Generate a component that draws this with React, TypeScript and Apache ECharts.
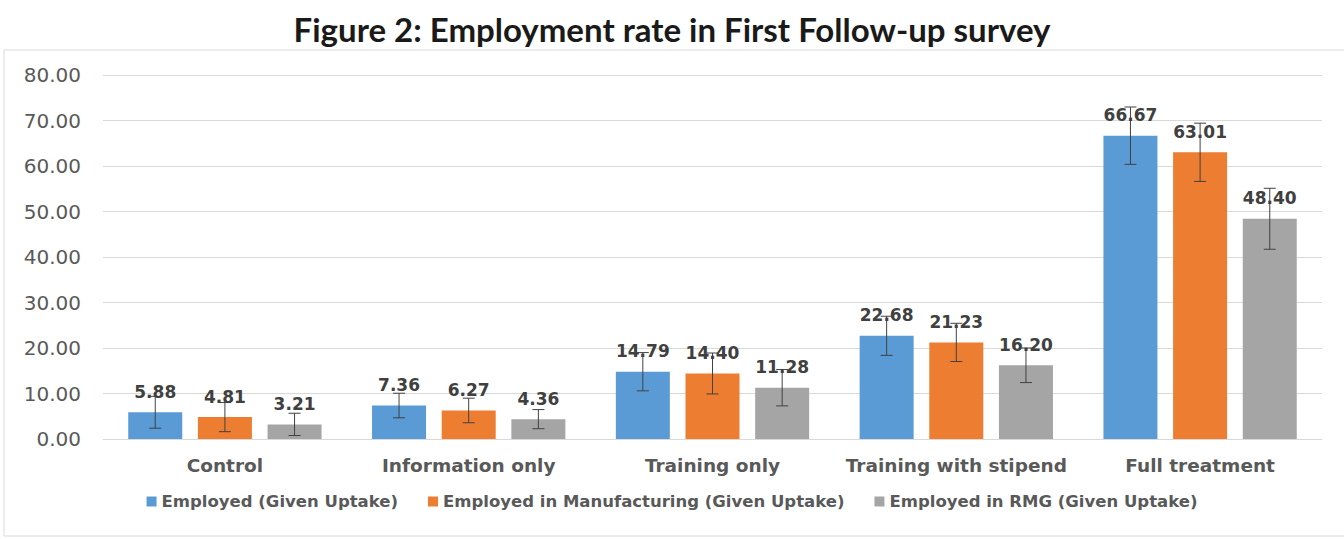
import React, { useEffect, useRef } from "react";
import * as echarts from "echarts";

const categories = ["Control", "Information only", "Training only", "Training with stipend", "Full treatment"];
const seriesNames = [
  "Employed (Given Uptake)",
  "Employed in Manufacturing (Given Uptake)",
  "Employed in RMG (Given Uptake)",
];
const employed = [5.88, 7.36, 14.79, 22.68, 66.67];
const manufacturing = [4.81, 6.27, 14.4, 21.23, 63.01];
const rmg = [3.21, 4.36, 11.28, 16.2, 48.4];
const employedErr = [3.5, 2.7, 4.2, 4.3, 6.3];
const manufacturingErr = [3.2, 2.7, 4.5, 4.2, 6.4];
const rmgErr = [2.45, 2.1, 4.0, 3.8, 6.7];
const colors = ["#5b9bd5", "#ed7d31", "#a5a5a5"];

const BAR_W = 54;
const BAR_GAP = 0.29;

export default function App() {
  const ref = useRef<HTMLDivElement>(null);
  useEffect(() => {
    if (!ref.current) return;
    const chart = echarts.init(ref.current, null, { renderer: "svg" });
    const values = [employed, manufacturing, rmg];
    const errs = [employedErr, manufacturingErr, rmgErr];
    const step = BAR_W * (1 + BAR_GAP);
    const offsets = [-step, 0, step];

    const barSeries = values.map((vals, i) => ({
      name: seriesNames[i],
      type: "bar",
      data: vals,
      barWidth: BAR_W,
      barGap: BAR_GAP * 100 + "%",
      itemStyle: { color: colors[i] },
      z: 2,
      label: {
        show: true,
        position: "top",
        distance: 12,
        formatter: (p: any) => Number(p.value).toFixed(2),
        fontFamily: "DejaVu Sans",
        fontWeight: "bold",
        fontSize: 17,
        color: "#404040",
      },
    }));

    const errSeries = values.map((vals, i) => ({
      name: seriesNames[i] + " error",
      type: "custom",
      z: 3,
      silent: true,
      data: vals.map((v, k) => [k, v - errs[i][k], v + errs[i][k]]),
      encode: { x: 0, y: [1, 2] },
      renderItem: (params: any, api: any) => {
        const idx = api.value(0);
        const lo = api.value(1);
        const hi = api.value(2);
        const pHi = api.coord([idx, hi]);
        const pLo = api.coord([idx, lo]);
        const x = pHi[0] + offsets[i];
        const cap = 6;
        const style = { stroke: "#404040", lineWidth: 1 };
        return {
          type: "group",
          children: [
            { type: "line", shape: { x1: x, y1: pHi[1], x2: x, y2: pLo[1] }, style },
            { type: "line", shape: { x1: x - cap, y1: pHi[1], x2: x + cap, y2: pHi[1] }, style },
            { type: "line", shape: { x1: x - cap, y1: pLo[1], x2: x + cap, y2: pLo[1] }, style },
          ],
        };
      },
    }));

    chart.setOption({
      animation: false,
      backgroundColor: "#ffffff",
      title: {
        text: "Figure 2: Employment rate in First Follow-up survey",
        left: "center",
        top: 7,
        textStyle: {
          fontFamily: "Lato",
          fontWeight: "bold",
          fontSize: 33,
          color: "#1a1a1a",
        },
      },
      graphic: [
        {
          type: "rect",
          shape: { x: 4, y: 50, width: 1360, height: 486 },
          style: { fill: "none", stroke: "#d9d9d9", lineWidth: 1 },
          z: -1,
        },
      ],
      legend: {
        data: seriesNames,
        bottom: 24,
        left: "center",
        itemWidth: 10,
        itemHeight: 10,
        itemGap: 30,
        icon: "rect",
        textStyle: {
          fontFamily: "DejaVu Sans",
          fontWeight: "bold",
          fontSize: 16.5,
          color: "#595959",
        },
      },
      grid: { left: 103, right: 22, top: 75, bottom: 100, containLabel: false },
      xAxis: {
        type: "category",
        data: categories,
        axisTick: { show: false },
        axisLine: { lineStyle: { color: "#d9d9d9" } },
        axisLabel: {
          interval: 0,
          margin: 17,
          fontFamily: "DejaVu Sans",
          fontWeight: "bold",
          fontSize: 18.5,
          color: "#595959",
        },
      },
      yAxis: {
        type: "value",
        min: 0,
        max: 80,
        interval: 10,
        axisLine: { show: false },
        axisTick: { show: false },
        splitLine: { lineStyle: { color: "#d9d9d9" } },
        axisLabel: {
          margin: 22,
          formatter: (v: number) => v.toFixed(2),
          fontFamily: "DejaVu Sans",
          fontSize: 20,
          color: "#595959",
        },
      },
      series: [...barSeries, ...errSeries],
    });
    return () => chart.dispose();
  }, []);
  return (
    <div
      ref={ref}
      style={{ position: "fixed", left: 0, top: 0, width: 1344, height: 539 }}
    />
  );
}
